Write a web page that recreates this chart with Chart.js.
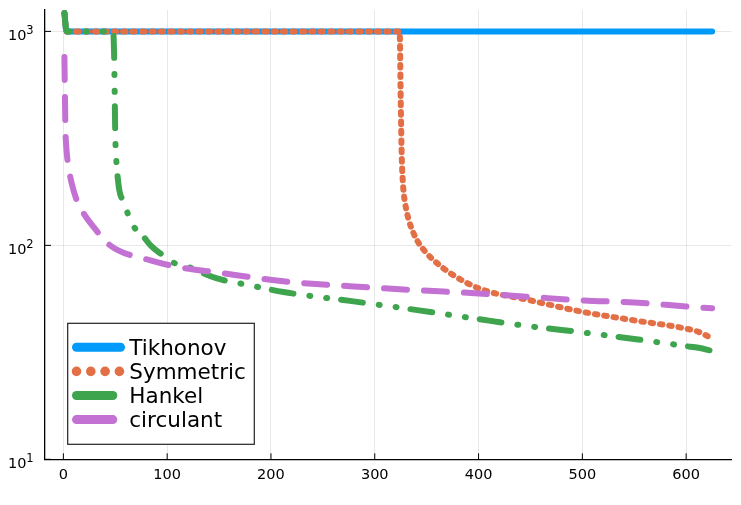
<!DOCTYPE html>
<html><head><meta charset="utf-8">
<script src="https://cdn.jsdelivr.net/npm/chart.js@4"></script>
<style>html,body{margin:0;padding:0;background:#fff}#wrap{width:741px;height:505px;position:relative}</style>
</head><body><div id="wrap"><canvas id="c"></canvas></div>
<script>
// ---- data ----
const seriesNames = ['Tikhonov', 'Symmetric', 'Hankel', 'circulant'];

const tikhonovX = [1, 3, 625];
const tikhonovY = [1220, 1000, 1000];

const symmetricX = [1, 3, 324, 325, 326, 327, 328, 330, 333, 337, 341, 349, 357, 373, 400, 450, 500, 550, 600, 612, 625];
const symmetricY = [1220, 1000, 1000, 480, 260, 200, 174, 150, 130, 115, 105, 93, 85, 74, 63, 55.3, 48.9, 44.6, 40.8, 39.4, 36.7];

const hankelX = [1, 3, 48, 49, 50, 51, 52, 54, 58, 62, 68, 77, 84, 93, 106, 116, 148, 180, 212, 276, 341, 400, 450, 500, 550, 600, 612, 625];
const hankelY = [1220, 1000, 1000, 730, 330, 250, 216, 180, 160, 141, 122, 110, 100, 92, 83, 80.7, 70, 65, 60.5, 55, 49.8, 45.2, 41.8, 39.2, 36.5, 33.8, 33.2, 32.1];

const circulantX = [1, 2, 3, 5, 8, 13, 20, 29, 45, 84, 112, 148, 212, 276, 341, 400, 450, 500, 550, 600, 625];
const circulantY = [760, 350, 280, 232, 195, 162, 140, 122, 100, 85, 79, 74.7, 67.9, 64.4, 61.7, 59.6, 57.4, 55.3, 54.1, 51.8, 50.8];

const xTicks = [0, 100, 200, 300, 400, 500, 600];
const yTicks = [10, 100, 1000];
const yTickExponents = ['1', '2', '3'];

// ---- styles ----
const colors = ['#009AFA', '#E36F47', '#3EA44E', '#C371D2'];
const dashes = [[], [2.6, 6.8], [22, 16, 1, 16, 1, 14], [23, 17]];
const legendDotted = [false, true, false, false];
const legendLen = [44, 44, 36.3, 36.3];
const FONT = "'DejaVu Sans', sans-serif";

function pts(xs, ys) { return xs.map((x, i) => ({ x: x, y: ys[i] })); }
const allX = [tikhonovX, symmetricX, hankelX, circulantX];
const allY = [tikhonovY, symmetricY, hankelY, circulantY];

const datasets = seriesNames.map((name, i) => ({
  label: name,
  data: pts(allX[i], allY[i]),
  borderColor: colors[i],
  backgroundColor: colors[i],
  borderWidth: 6,
  borderDash: dashes[i].slice(),
  borderCapStyle: 'round',
  borderJoinStyle: 'round',
  cubicInterpolationMode: 'monotone',
  pointRadius: 0,
  fill: false,
  order: 4 - i
}));

const decorPlugin = {
  id: 'decor',
  beforeDatasetsDraw(chart) {
    const ctx = chart.ctx, a = chart.chartArea, xs = chart.scales.x, ys = chart.scales.y;
    ctx.save();
    ctx.setLineDash([]);
    ctx.strokeStyle = '#000';
    ctx.lineWidth = 1;
    ctx.beginPath();
    xTicks.forEach(v => { const px = xs.getPixelForValue(v); ctx.moveTo(px, a.bottom); ctx.lineTo(px, a.bottom - 6); });
    yTicks.forEach(v => { const py = ys.getPixelForValue(v); ctx.moveTo(a.left, py); ctx.lineTo(a.left + 6, py); });
    ctx.stroke();
    // y tick labels with superscript exponents
    ctx.fillStyle = '#000';
    ctx.textBaseline = 'alphabetic';
    yTicks.forEach((v, i) => {
      const py = ys.getPixelForValue(v);
      ctx.font = '11.5px ' + FONT;
      const ew = ctx.measureText(yTickExponents[i]).width;
      const ex = a.left - 11.5 - ew;
      ctx.textAlign = 'left';
      ctx.fillText(yTickExponents[i], ex, py + 2.6);
      ctx.font = '14.5px ' + FONT;
      ctx.textAlign = 'right';
      ctx.fillText('10', ex + 0.3, py + 8.3);
    });
    ctx.restore();
  },
  afterDraw(chart) {
    const ctx = chart.ctx, a = chart.chartArea;
    const bx = a.left + 22.7, bw = 186.6, bh = 121, by = a.bottom - 15 - bh;
    ctx.save();
    ctx.setLineDash([]);
    ctx.lineDashOffset = 0;
    ctx.fillStyle = '#fff';
    ctx.fillRect(bx, by, bw, bh);
    ctx.strokeStyle = '#222';
    ctx.lineWidth = 1.2;
    ctx.strokeRect(bx, by, bw, bh);
    ctx.font = '21.5px ' + FONT;
    ctx.textBaseline = 'alphabetic';
    ctx.textAlign = 'left';
    seriesNames.forEach((name, i) => {
      const cy = by + 24 + i * 24.1;
      const x0 = bx + 8.8;
      ctx.strokeStyle = colors[i];
      ctx.fillStyle = colors[i];
      ctx.lineWidth = 9;
      ctx.lineCap = 'round';
      ctx.setLineDash([]);
      if (legendDotted[i]) {
        for (let k = 0; k < 4; k++) {
          ctx.beginPath();
          ctx.arc(x0 + k * 14.3, cy, 4.8, 0, Math.PI * 2);
          ctx.fill();
        }
      } else {
        ctx.beginPath();
        ctx.moveTo(x0, cy);
        ctx.lineTo(x0 + legendLen[i], cy);
        ctx.stroke();
      }
      ctx.fillStyle = '#000';
      ctx.fillText(name, bx + 61.6, cy + 7.8);
    });
    ctx.restore();
  }
};

new Chart(document.getElementById('c'), {
  type: 'line',
  data: { datasets: datasets },
  plugins: [decorPlugin],
  options: {
    responsive: true,
    maintainAspectRatio: false,
    animation: false,
    layout: { padding: { top: 10, right: 9.5, left: 0, bottom: 0 } },
    plugins: { legend: { display: false }, tooltip: { enabled: false } },
    scales: {
      x: {
        type: 'linear', min: -17.7, max: 643.7,
        afterBuildTicks: s => { s.ticks = xTicks.map(v => ({ value: v })); },
        afterFit: s => { s.height = 45.7; },
        grid: { color: 'rgba(0,0,0,0.09)', lineWidth: 1, drawTicks: false },
        border: { display: true, color: '#000', width: 1.3 },
        ticks: { font: { family: FONT, size: 14.5 }, color: '#000', padding: 7, maxRotation: 0, autoSkip: false }
      },
      y: {
        type: 'logarithmic', min: 10, max: Math.pow(10, 3.1),
        afterBuildTicks: s => { s.ticks = yTicks.map(v => ({ value: v })); },
        afterFit: s => { s.width = 45; },
        grid: { color: 'rgba(0,0,0,0.09)', lineWidth: 1, drawTicks: false },
        border: { display: true, color: '#000', width: 1.3 },
        ticks: { display: false }
      }
    }
  }
});
</script>
</body></html>
